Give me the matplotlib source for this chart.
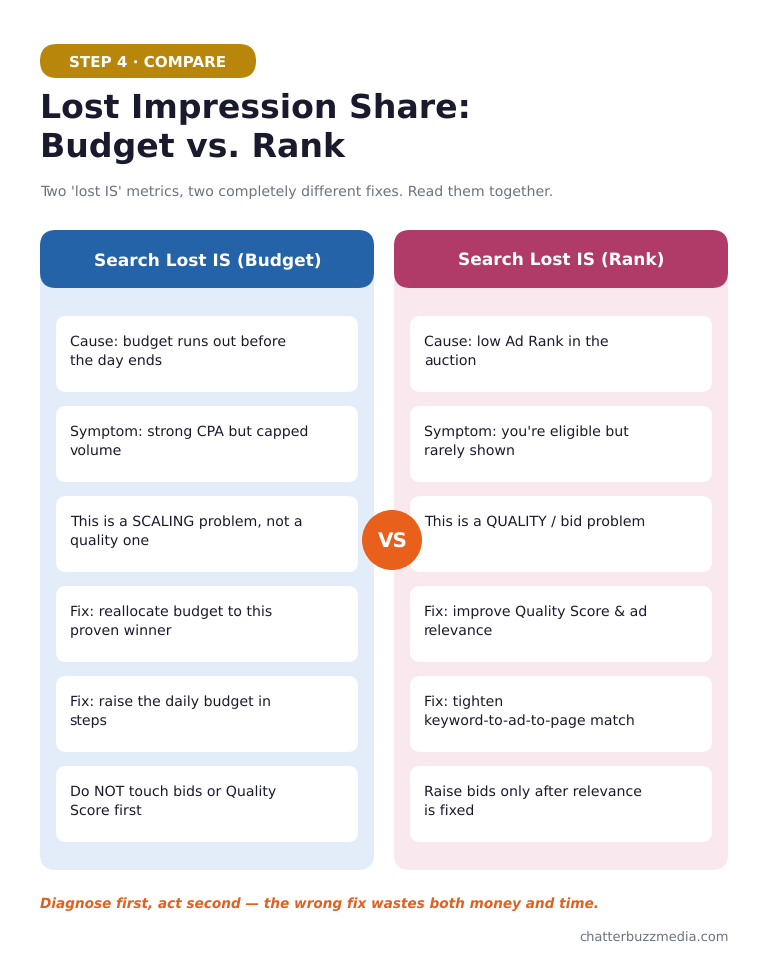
import matplotlib
matplotlib.use("Agg")
import matplotlib.pyplot as plt
from matplotlib.patches import FancyBboxPatch, Circle

plt.rcParams["text.hinting"] = "no_hinting"
plt.rcParams["text.hinting_factor"] = 8

badge_text = "STEP 4 · COMPARE"
title_lines = ["Lost Impression Share:", "Budget vs. Rank"]
subtitle = "Two 'lost IS' metrics, two completely different fixes. Read them together."
left_header = "Search Lost IS (Budget)"
right_header = "Search Lost IS (Rank)"
left_items = [
    "Cause: budget runs out before\nthe day ends",
    "Symptom: strong CPA but capped\nvolume",
    "This is a SCALING problem, not a\nquality one",
    "Fix: reallocate budget to this\nproven winner",
    "Fix: raise the daily budget in\nsteps",
    "Do NOT touch bids or Quality\nScore first",
]
right_items = [
    "Cause: low Ad Rank in the\nauction",
    "Symptom: you're eligible but\nrarely shown",
    "This is a QUALITY / bid problem",
    "Fix: improve Quality Score & ad\nrelevance",
    "Fix: tighten\nkeyword-to-ad-to-page match",
    "Raise bids only after relevance\nis fixed",
]
footer = "Diagnose first, act second — the wrong fix wastes both money and time."
credit = "chatterbuzzmedia.com"
vs_text = "VS"

INK = "#1a1a2e"
GREY = "#6b7280"
ORANGE = "#e8601c"
FOOT = "#e0601f"

fig = plt.figure(figsize=(7.68, 9.6), dpi=100, facecolor="white")
ax = fig.add_axes([0, 0, 1, 1])
ax.set_xlim(0, 768)
ax.set_ylim(960, 0)
ax.axis("off")


def rbox(x, y, w, h, r, color, z=1):
    ax.add_patch(FancyBboxPatch((x + r, y + r), w - 2 * r, h - 2 * r,
                                boxstyle=f"round,pad={r},rounding_size={r}",
                                fc=color, ec="none", zorder=z))


rbox(40, 44, 216, 34, 17, "#b8860b")
ax.text(147.5, 62.5, badge_text, color="white", fontsize=10.9, fontweight="bold",
        ha="center", va="center", zorder=3)
for line, yy in zip(title_lines, [108, 148]):
    ax.text(39.8, yy, line, color=INK, fontsize=23.85, fontweight="bold",
            ha="left", va="center", zorder=3)
ax.text(39.6, 192, subtitle, color=GREY, fontsize=10.18, ha="left", va="center", zorder=3)

columns = [
    (40, "#e3edf9", "#2563a8", left_header, left_items),
    (394, "#f9e8ee", "#b03a68", right_header, right_items),
]
for x0, pale, strong, header, items in columns:
    rbox(x0, 230, 334, 640, 16, pale, 1)
    rbox(x0, 230, 334, 58, 16, strong, 2)
    ax.text(x0 + 167.3, 261.5, header, color="white", fontsize=12.25, fontweight="bold",
            ha="center", va="center", zorder=3)
    for i, item in enumerate(items):
        top = 316 + 90 * i
        rbox(x0 + 16, top, 302, 76, 10, "white", 2)
        for j, line in enumerate(item.split("\n")):
            ax.text(x0 + 29.7, top + 26 + 19 * j, line, color=INK, fontsize=10.18,
                    ha="left", va="center", zorder=3)

ax.add_patch(Circle((392, 540), 30, fc=ORANGE, ec="none", zorder=5))
ax.text(392.5, 542, vs_text, color="white", fontsize=14.4, fontweight="bold",
        ha="center", va="center", zorder=6)

ax.text(40, 904.5, footer, color=FOOT, fontsize=9.79, fontweight="bold", fontstyle="italic",
        ha="left", va="center", zorder=3)
ax.text(729, 938, credit, color=GREY, fontsize=9.36, ha="right", va="center", zorder=3)

fig.savefig("out.png", dpi=100, facecolor="white")
